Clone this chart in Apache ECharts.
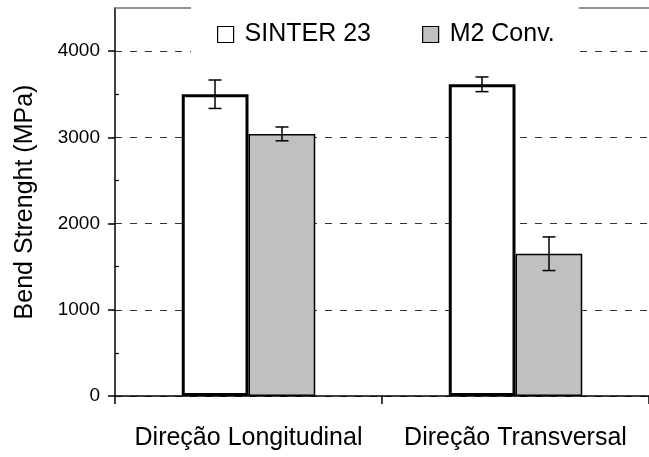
<!DOCTYPE html>
<html>
<head>
<meta charset="utf-8">
<script src="https://cdn.jsdelivr.net/npm/echarts@6/dist/echarts.min.js"></script>
<style>
  html, body { margin: 0; padding: 0; background: #fff; }
  #chart { width: 649px; height: 457px; }
</style>
</head>
<body>
<div id="chart"></div>
<script>
const categories = ['Direção Longitudinal', 'Direção Transversal']
const seriesNames = ['SINTER 23', 'M2 Conv.']
const sinterValues = [3500, 3615]
const sinterErrors = [165, 85]
const m2Values = [3040, 1650]
const m2Errors = [80, 195]
const yMajorTicks = [0, 1000, 2000, 3000, 4000]
const yMinorTicks = [500, 1500, 2500, 3500]

const chart = echarts.init(document.getElementById('chart'))

const font = 'Liberation Sans, Arial, sans-serif'

// error bar: offset is a fraction of the category band (bars are 25% wide each)
const errorSeries = (name, values, errors, side) => ({
  name: name + ' err',
  type: 'custom',
  z: 5,
  silent: true,
  data: values.map((v, i) => [i, v - errors[i], v + errors[i]]),
  renderItem: function (params, api) {
    const idx = api.value(0)
    const lo = api.coord([idx, api.value(1)])
    const hi = api.coord([idx, api.value(2)])
    const band = api.size([1, 0])[0]
    const x = Math.round(lo[0] + side * band * 0.125)
    const cap = 6.5
    const style = { stroke: '#000', lineWidth: 1.5, fill: null }
    return {
      type: 'group',
      children: [
        { type: 'line', shape: { x1: x, y1: hi[1], x2: x, y2: lo[1] }, style },
        { type: 'line', shape: { x1: x - cap, y1: hi[1], x2: x + cap, y2: hi[1] }, style },
        { type: 'line', shape: { x1: x - cap, y1: lo[1], x2: x + cap, y2: lo[1] }, style }
      ]
    }
  }
})

const option = {
  animation: false,
  backgroundColor: '#fff',
  textStyle: { fontFamily: font },
  grid: { left: 115, top: 8, width: 540, height: 388 },
  legend: {
    data: seriesNames,
    icon: 'rect',
    left: 191,
    top: 0,
    padding: [22, 24, 10, 26],
    backgroundColor: '#fff',
    itemWidth: 16,
    itemHeight: 16,
    itemGap: 51,
    itemStyle: { borderColor: '#000', borderWidth: 1.2 },
    textStyle: { fontSize: 25, color: '#000', fontFamily: font, padding: [0, 0, 0, 6] }
  },
  xAxis: [
    {
      type: 'category',
      data: categories,
      axisLine: { lineStyle: { color: '#000', width: 1.5 } },
      axisTick: { show: true, length: 8, lineStyle: { color: '#000', width: 1.5 } },
      axisLabel: { color: '#000', fontSize: 25, margin: 30, interval: 0, fontFamily: font }
    },
    {
      type: 'category',
      data: categories,
      position: 'top',
      axisLine: { onZero: false, lineStyle: { color: '#707070', width: 1.5 } },
      axisTick: { show: false },
      axisLabel: { show: false }
    }
  ],
  yAxis: [
    {
      type: 'value',
      min: 0,
      max: 4500,
      name: 'Bend Strenght (MPa)',
      nameLocation: 'middle',
      nameGap: 77,
      nameTextStyle: { fontSize: 25, color: '#000', fontFamily: font },
      axisLine: { show: true, lineStyle: { color: '#000', width: 1.5 } },
      axisTick: { show: true, length: 7, customValues: yMajorTicks, lineStyle: { color: '#000', width: 1.5 } },
      axisLabel: {
        color: '#000', fontSize: 19, margin: 15, customValues: yMajorTicks, fontFamily: font,
        formatter: (v) => String(v)
      },
      splitLine: { show: true, lineStyle: { color: '#333', width: 1, type: [7, 8] } }
    },
    {
      type: 'value',
      min: 0,
      max: 4500,
      position: 'left',
      axisLine: { show: false },
      axisTick: { show: true, inside: true, length: 4, customValues: yMinorTicks, lineStyle: { color: '#000', width: 1.2 } },
      axisLabel: { show: false },
      splitLine: { show: false }
    }
  ],
  series: [
    {
      name: seriesNames[0],
      type: 'bar',
      z: 3,
      data: sinterValues,
      barWidth: '25%',
      barGap: '0%',
      itemStyle: { color: '#fff', borderColor: '#000', borderWidth: 3 }
    },
    {
      name: seriesNames[1],
      type: 'bar',
      z: 3,
      data: m2Values,
      barWidth: '25%',
      barGap: '0%',
      itemStyle: { color: '#c0c0c0', borderColor: '#000', borderWidth: 1.5 }
    },
    errorSeries(seriesNames[0], sinterValues, sinterErrors, -1),
    errorSeries(seriesNames[1], m2Values, m2Errors, 1)
  ]
}

chart.setOption(option)
</script>
</body>
</html>
